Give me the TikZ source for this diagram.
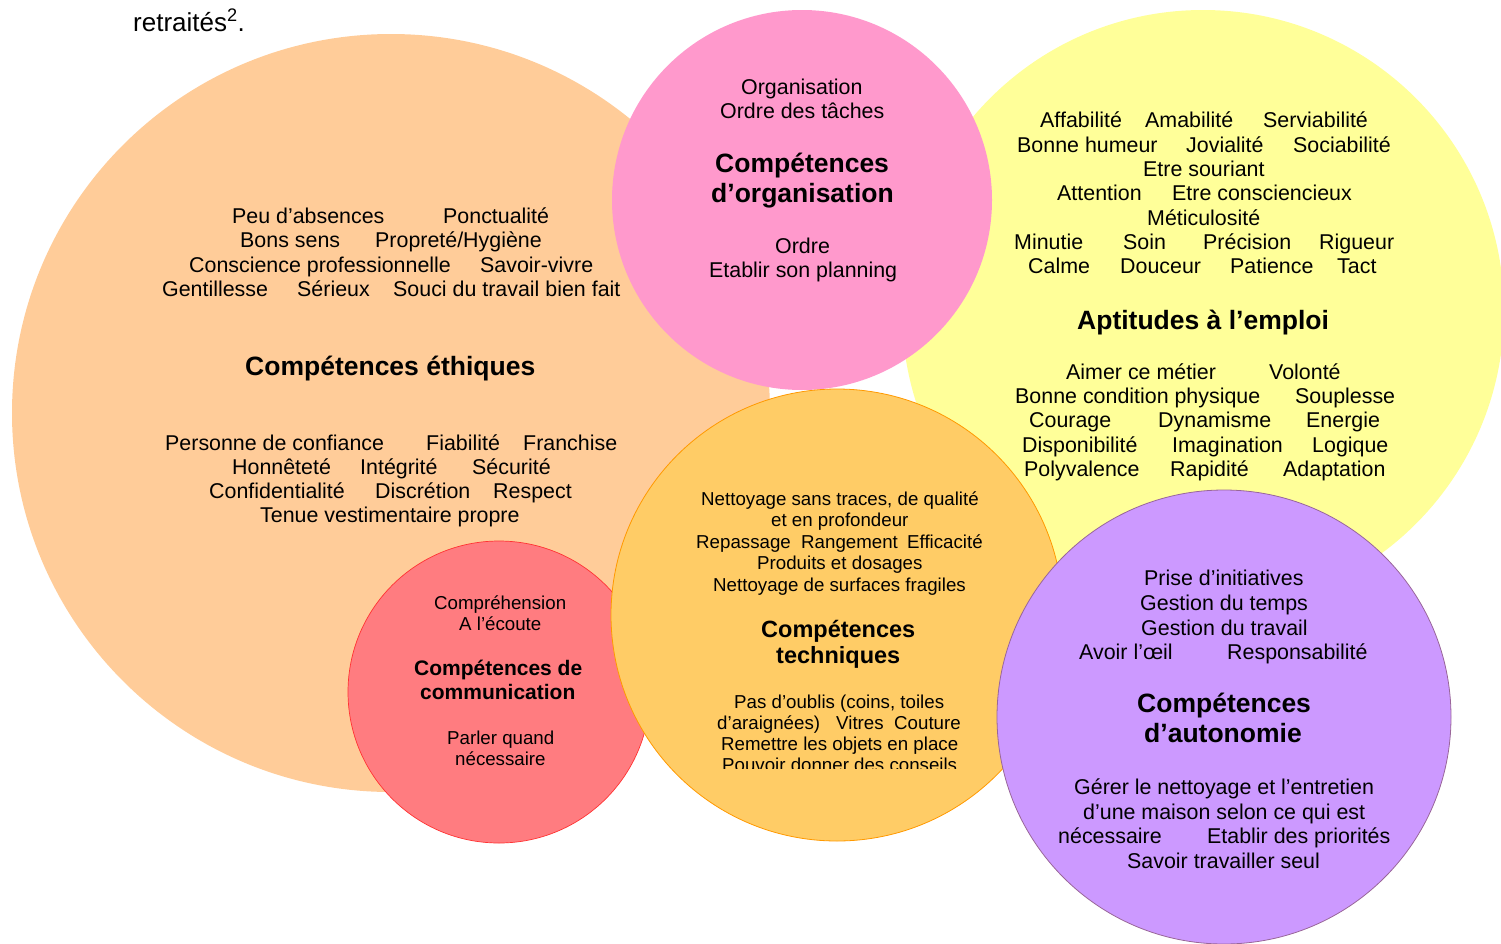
\documentclass[tikz,border=0pt]{standalone}
\usepackage{fontspec}
\setmainfont{Liberation Sans}
\definecolor{peach}{HTML}{FFCC99}
\definecolor{pinkc}{HTML}{FF99CC}
\definecolor{yell}{HTML}{FFFF99}
\definecolor{orng}{HTML}{FFCC66}
\definecolor{orngedge}{HTML}{FF9900}
\definecolor{redc}{HTML}{FF7C80}
\definecolor{rededge}{HTML}{FF3333}
\definecolor{purp}{HTML}{CC99FF}
\definecolor{purpedge}{HTML}{996699}
\newcount\wc
\newcommand\W[4][txt]{\global\advance\wc by 1 \node[#1] (w\the\wc) at (#2,#3) {#4};}
\tikzset{
  bubble/.style={circle, inner sep=0pt, minimum size=#1},
  txt/.style={anchor=base west, inner sep=0pt, font=\fontsize{21.4}{24}\selectfont},
  sm/.style={txt, font=\fontsize{18.7}{21}\selectfont},
  hd/.style={txt, font=\bfseries\fontsize{26.5}{30}\selectfont},
  hdm/.style={txt, font=\bfseries\fontsize{23.5}{27}\selectfont},
  hds/.style={txt, font=\bfseries\fontsize{21}{24}\selectfont},
  top/.style={txt, font=\fontsize{26}{30}\selectfont},
}
\begin{document}
\begin{tikzpicture}[x=1pt,y=-1pt]
\useasboundingbox (0,0) rectangle (1501,943);
% circles
\node[bubble=758, fill=peach] (eth) at (391,413) {};
\node[bubble=602, fill=yell] (apt) at (1203,311) {};
\node[bubble=380, fill=pinkc] (org) at (802,200) {};
\node[bubble=302, fill=redc, draw=rededge, line width=0.7pt] (com) at (499,692) {};
\node[bubble=452, fill=orng, draw=orngedge, line width=0.8pt] (tec) at (837,615) {};
\node[bubble=454, fill=purp, draw=purpedge, line width=0.8pt] (aut) at (1224,717) {};
% top text
\W[top]{133}{31}{retraités\textsuperscript{2}.}
% ethics
\W{232}{223}{Peu d’absences}
\W{443}{223}{Ponctualité}
\W{240}{247}{Bons sens}
\W{375}{247}{Propreté/Hygiène}
\W{189}{272}{Conscience professionnelle}
\W{480}{272}{Savoir-vivre}
\W{162}{296}{Gentillesse}
\W{297}{296}{Sérieux}
\W{393}{296}{Souci du travail bien fait}
\W[hd]{245}{375}{Compétences éthiques}
\W{165}{450}{Personne de confiance}
\W{426}{450}{Fiabilité}
\W{523}{450}{Franchise}
\W{232}{474}{Honnêteté}
\W{360}{474}{Intégrité}
\W{472}{474}{Sécurité}
\W{209}{498}{Confidentialité}
\W{375}{498}{Discrétion}
\W{493}{498}{Respect}
\W{260}{522}{Tenue vestimentaire propre}
% organisation
\W{741}{94}{Organisation}
\W{720}{118}{Ordre des tâches}
\W[hd]{715}{172}{Compétences}
\W[hd]{711}{202}{d’organisation}
\W{775}{253}{Ordre}
\W{709}{277}{Etablir son planning}
% aptitudes
\W{1040}{127}{Affabilité}
\W{1145}{127}{Amabilité}
\W{1263}{127}{Serviabilité}
\W{1017}{152}{Bonne humeur}
\W{1186}{152}{Jovialité}
\W{1293}{152}{Sociabilité}
\W{1143}{176}{Etre souriant}
\W{1057}{200}{Attention}
\W{1172}{200}{Etre consciencieux}
\W{1147}{225}{Méticulosité}
\W{1014}{249}{Minutie}
\W{1123}{249}{Soin}
\W{1203}{249}{Précision}
\W{1319}{249}{Rigueur}
\W{1028}{273}{Calme}
\W{1120}{273}{Douceur}
\W{1230}{273}{Patience}
\W{1337}{273}{Tact}
\W[hd]{1077}{329}{Aptitudes à l’emploi}
\W{1066}{379}{Aimer ce métier}
\W{1269}{379}{Volonté}
\W{1015}{403}{Bonne condition physique}
\W{1295}{403}{Souplesse}
\W{1029}{427}{Courage}
\W{1158}{427}{Dynamisme}
\W{1306}{427}{Energie}
\W{1022}{452}{Disponibilité}
\W{1172}{452}{Imagination}
\W{1312}{452}{Logique}
\W{1024}{476}{Polyvalence}
\W{1170}{476}{Rapidité}
\W{1283}{476}{Adaptation}
% techniques
\W[sm]{701}{505}{Nettoyage sans traces, de qualité}
\W[sm]{771}{526}{et en profondeur}
\W[sm]{696}{548}{Repassage}
\W[sm]{801}{548}{Rangement}
\W[sm]{907}{548}{Efficacité}
\W[sm]{757}{569}{Produits et dosages}
\W[sm]{713}{591}{Nettoyage de surfaces fragiles}
\W[hdm]{761}{637}{Compétences}
\W[hdm]{776}{663}{techniques}
\W[sm]{734}{708}{Pas d’oublis (coins, toiles}
\W[sm]{717}{729}{d’araignées)}
\W[sm]{836}{729}{Vitres}
\W[sm]{894}{729}{Couture}
\W[sm]{721}{750}{Remettre les objets en place}
\begin{scope}
\clip (650,740) rectangle (1000,768);
\W[sm]{722}{771}{Pouvoir donner des conseils}
\end{scope}
% communication
\W[sm]{434}{609}{Compréhension}
\W[sm]{459}{630}{A l’écoute}
\W[hds]{414}{675}{Compétences de}
\W[hds]{420}{699}{communication}
\W[sm]{447}{744}{Parler quand}
\W[sm]{455}{765}{nécessaire}
% autonomie
\W{1144}{585}{Prise d’initiatives}
\W{1140}{610}{Gestion du temps}
\W{1141}{635}{Gestion du travail}
\W{1079}{659}{Avoir l’œil}
\W{1227}{659}{Responsabilité}
\W[hd]{1137}{712}{Compétences}
\W[hd]{1144}{742}{d’autonomie}
\W{1074}{794}{Gérer le nettoyage et l’entretien}
\W{1083}{819}{d’une maison selon ce qui est}
\W{1058}{843}{nécessaire}
\W{1207}{843}{Etablir des priorités}
\W{1127}{868}{Savoir travailler seul}
\end{tikzpicture}
\end{document}
